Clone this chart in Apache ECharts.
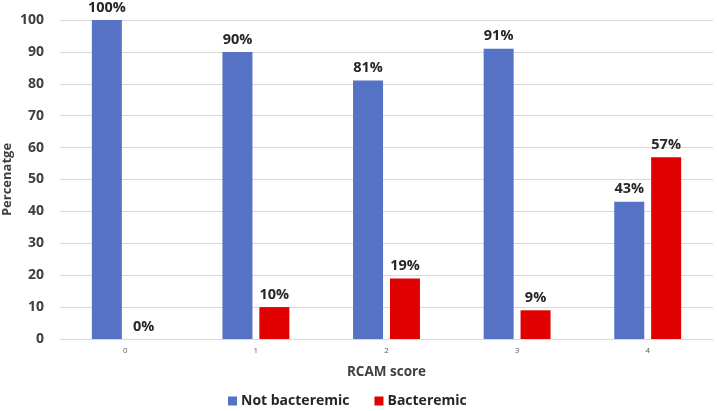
<!DOCTYPE html>
<html><head><meta charset="utf-8">
<script src="https://cdn.jsdelivr.net/npm/echarts@6/dist/echarts.min.js"></script>
<style>html,body{margin:0;padding:0;background:#fff}#c{width:717px;height:411px}</style>
</head><body><div id="c"></div>
<script>
const categories = ['0','1','2','3','4'];
const notBacteremic = [100, 90, 81, 91, 43];
const bacteremic = [0, 10, 19, 9, 57];
const yTicks = [0,10,20,30,40,50,60,70,80,90,100];

const chart = echarts.init(document.getElementById('c'));
const lbl = {show:true, position:'top', formatter:'{c}%', fontFamily:'Open Sans', fontWeight:'bold', fontSize:14.5, color:'#262626', distance:5};
chart.setOption({
  animation:false,
  textStyle:{fontFamily:'Open Sans'},
  grid:{left:60, right:4, top:20, bottom:72, containLabel:false, outerBoundsMode:'none'},
  legend:{bottom:-2, left:223, itemWidth:9, itemHeight:9, itemGap:25, icon:'rect',
    textStyle:{fontFamily:'Open Sans', fontWeight:'bold', fontSize:14, color:'#262626', padding:[0,0,0,-1]},
    data:['Not bacteremic','Bacteremic']},
  xAxis:{type:'category', data:categories, name:'RCAM score', nameLocation:'middle', nameGap:26,
    nameTextStyle:{fontFamily:'Open Sans', fontWeight:'bold', fontSize:13.5, color:'#404040'},
    axisLine:{lineStyle:{color:'#d9d9d9'}}, axisTick:{show:false},
    axisLabel:{fontSize:8, color:'#595959', margin:8}},
  yAxis:{type:'value', min:0, max:100, interval:10, name:'Percenatge', nameLocation:'middle', nameGap:46, nameMoveOverlap:false,
    nameTextStyle:{fontFamily:'Open Sans', fontWeight:'bold', fontSize:13, color:'#404040'},
    axisLine:{show:false}, axisTick:{show:false},
    splitLine:{lineStyle:{color:'#d9d9d9'}},
    axisLabel:{fontFamily:'Open Sans', fontWeight:'bold', fontSize:14, color:'#404040', margin:16,
      formatter:v=>yTicks.includes(v)?String(v):''}},
  series:[
    {name:'Not bacteremic', type:'bar', data:notBacteremic, barWidth:30, barGap:'23%', itemStyle:{color:'#5572C4'}, label:lbl},
    {name:'Bacteremic', type:'bar', data:bacteremic, barWidth:30, itemStyle:{color:'#E00000'}, label:lbl}
  ]
});
</script></body></html>
